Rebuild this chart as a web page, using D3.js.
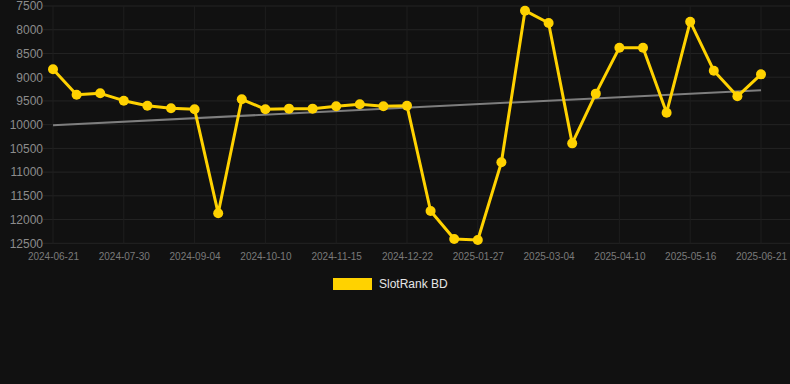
<!DOCTYPE html>
<html>
<head>
<meta charset="utf-8">
<script src="https://cdn.jsdelivr.net/npm/d3@7/dist/d3.min.js"></script>
<style>
html,body{margin:0;padding:0;background:#111111;}
svg{display:block;font-family:"Liberation Sans",Arial,sans-serif;}
</style>
</head>
<body>
<svg id="chart" width="790" height="384"></svg>
<script>
const categories = [
  "2024-06-21","2024-07-04","2024-07-17","2024-07-30","2024-08-11","2024-08-23",
  "2024-09-04","2024-09-16","2024-09-28","2024-10-10","2024-10-22","2024-11-03",
  "2024-11-15","2024-11-27","2024-12-10","2024-12-22","2025-01-03","2025-01-15",
  "2025-01-27","2025-02-08","2025-02-20","2025-03-04","2025-03-16","2025-03-29",
  "2025-04-10","2025-04-22","2025-05-04","2025-05-16","2025-05-28","2025-06-09",
  "2025-06-21"
];
const values = [
  8834, 9369, 9340, 9495, 9600, 9656,
  9677, 11868, 9466, 9677, 9663, 9663,
  9614, 9572, 9614, 9600, 11819, 12410,
  12430, 10794, 7599, 7858, 10394, 9347,
  8378, 8378, 9748, 7830, 8863, 9403,
  8940
];
const xTickLabels = ["2024-06-21","2024-07-30","2024-09-04","2024-10-10","2024-11-15",
  "2024-12-22","2025-01-27","2025-03-04","2025-04-10","2025-05-16","2025-06-21"];
const yTicks = [7500, 8000, 8500, 9000, 9500, 10000, 10500, 11000, 11500, 12000, 12500];
const seriesName = "SlotRank BD";

const svg = d3.select("#chart");
const plotLeft = 43, plotRight = 790, plotTop = 6, plotBottom = 243.3;

const x = d3.scalePoint().domain(categories).range([53, 761]);
const y = d3.scaleLinear().domain([7500, 12500]).range([plotTop, plotBottom]);

// grid
const grid = svg.append("g");
grid.selectAll("line.h").data(yTicks).enter().append("line")
  .attr("x1", plotLeft).attr("x2", plotRight)
  .attr("y1", d => y(d)).attr("y2", d => y(d))
  .attr("stroke", "#242424").attr("stroke-width", 1);
grid.selectAll("line.v").data(xTickLabels).enter().append("line")
  .attr("x1", d => x(d)).attr("x2", d => x(d))
  .attr("y1", plotTop).attr("y2", plotBottom)
  .attr("stroke", "#1e1e1e").attr("stroke-width", 1);

// y axis
const yAxis = d3.axisLeft(y).tickValues(yTicks).tickFormat(d3.format("d")).tickSize(0).tickPadding(0);
const yg = svg.append("g").attr("transform", `translate(${plotLeft},0)`).call(yAxis);
yg.select(".domain").remove();
yg.selectAll("text").attr("fill", "#8c8c8c").attr("font-size", "12px")
  .attr("font-family", "Liberation Sans, Arial, sans-serif");

// x axis
const xAxis = d3.axisBottom(x).tickValues(xTickLabels).tickSize(0).tickPadding(10);
const xg = svg.append("g").attr("transform", `translate(0,${plotBottom})`).call(xAxis);
xg.select(".domain").remove();
xg.selectAll("text").attr("fill", "#7a7a7a").attr("font-size", "10px")
  .attr("font-family", "Liberation Sans, Arial, sans-serif");

// trend line (least squares)
const n = values.length;
const mx = d3.mean(values, (d, i) => i);
const my = d3.mean(values);
let sxy = 0, sxx = 0;
values.forEach((v, i) => { sxy += (i - mx) * (v - my); sxx += (i - mx) * (i - mx); });
const slope = sxy / sxx, intercept = my - slope * mx;
const trend = [0, n - 1].map(i => ({c: categories[i], v: intercept + slope * i}));
svg.append("path").datum(trend)
  .attr("d", d3.line().x(d => x(d.c)).y(d => y(d.v)))
  .attr("fill", "none").attr("stroke", "#7e7e7e").attr("stroke-width", 2);

// series line
const data = categories.map((c, i) => ({c, v: values[i]}));
svg.append("path").datum(data)
  .attr("d", d3.line().x(d => x(d.c)).y(d => y(d.v)))
  .attr("fill", "none").attr("stroke", "#FFD200").attr("stroke-width", 3)
  .attr("stroke-linejoin", "round");
svg.selectAll("circle.pt").data(data).enter().append("circle")
  .attr("cx", d => x(d.c)).attr("cy", d => y(d.v)).attr("r", 5)
  .attr("fill", "#FFD200");

// legend
const lg = svg.append("g");
lg.append("rect").attr("x", 333).attr("y", 278).attr("width", 39).attr("height", 12)
  .attr("fill", "#FFD200");
lg.append("text").attr("x", 379).attr("y", 284).attr("dy", "0.35em")
  .attr("fill", "#e6e6e6").attr("font-size", "12px").text(seriesName);
</script>
</body>
</html>
